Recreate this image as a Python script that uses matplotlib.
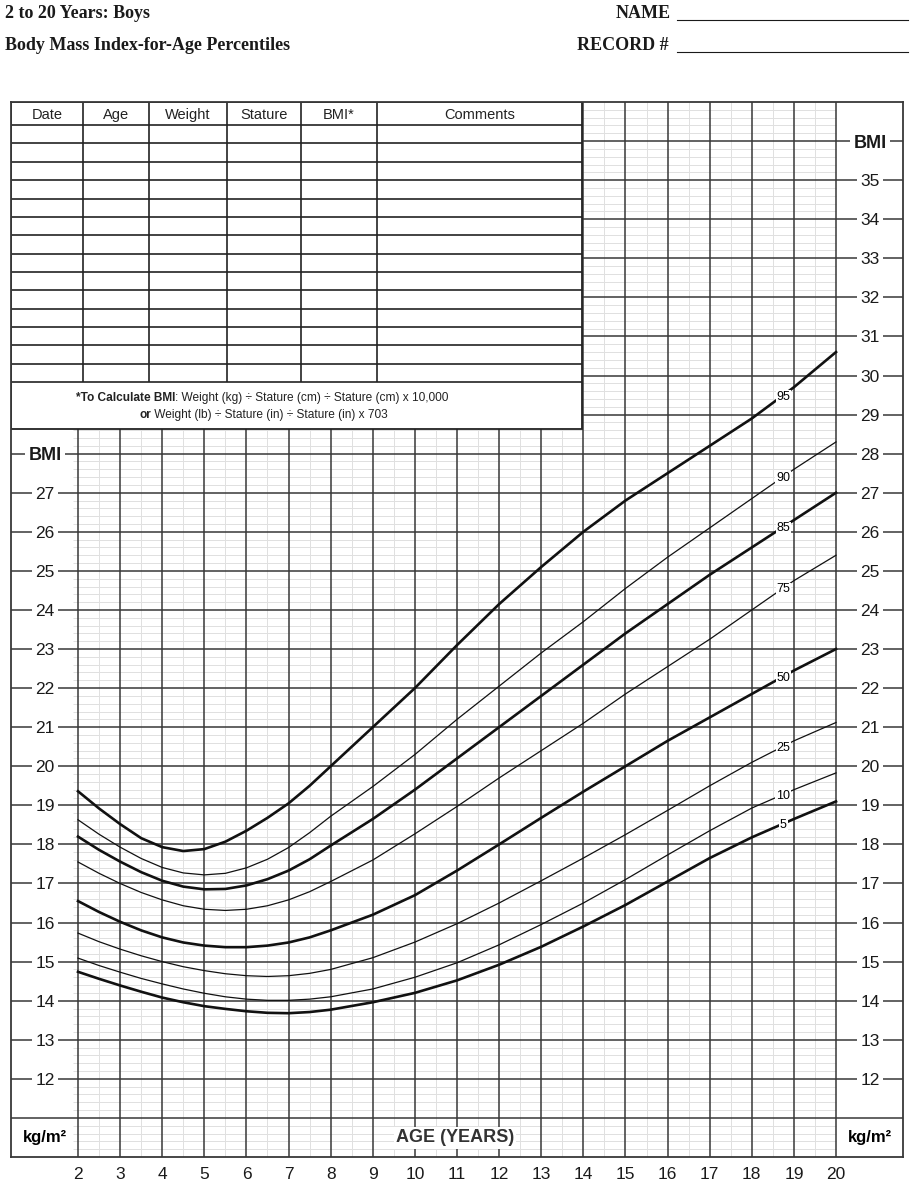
import numpy as np
import matplotlib.pyplot as plt
from matplotlib.lines import Line2D
from matplotlib.patches import Rectangle

plt.rcParams['font.family'] = ['Liberation Sans', 'DejaVu Sans']

# BMI-for-age percentiles, boys 2-20
ages = [2, 2.5, 3, 3.5, 4, 4.5, 5, 5.5, 6, 6.5, 7, 7.5, 8,
        9, 10, 11, 12, 13, 14, 15, 16, 17, 18, 19, 20]
p95 = [19.36, 18.92, 18.52, 18.16, 17.93, 17.83, 17.88, 18.07, 18.35, 18.68, 19.05, 19.5, 20.0,
       21.0, 22.0, 23.1, 24.15, 25.1, 26.0, 26.8, 27.5, 28.2, 28.9, 29.7, 30.6]
p90 = [18.63, 18.26, 17.93, 17.64, 17.41, 17.27, 17.22, 17.26, 17.4, 17.62, 17.92, 18.3, 18.72,
       19.48, 20.3, 21.2, 22.05, 22.9, 23.7, 24.55, 25.35, 26.1, 26.85, 27.6, 28.3]
p85 = [18.2, 17.86, 17.56, 17.29, 17.07, 16.92, 16.85, 16.86, 16.95, 17.11, 17.33, 17.62, 17.97,
       18.65, 19.4, 20.2, 21.0, 21.8, 22.6, 23.4, 24.15, 24.9, 25.6, 26.3, 27.0]
p75 = [17.55, 17.26, 17.0, 16.77, 16.58, 16.43, 16.34, 16.31, 16.34, 16.43, 16.58, 16.79, 17.05,
       17.6, 18.27, 18.97, 19.7, 20.4, 21.1, 21.85, 22.55, 23.25, 24.0, 24.75, 25.4]
p50 = [16.55, 16.27, 16.02, 15.8, 15.62, 15.49, 15.41, 15.37, 15.37, 15.41, 15.49, 15.62, 15.8,
       16.2, 16.7, 17.33, 18.0, 18.68, 19.35, 20.0, 20.65, 21.25, 21.85, 22.45, 23.0]
p25 = [15.73, 15.51, 15.32, 15.15, 15.0, 14.87, 14.77, 14.69, 14.64, 14.62, 14.64, 14.7, 14.8,
       15.1, 15.5, 15.97, 16.5, 17.07, 17.65, 18.25, 18.87, 19.5, 20.1, 20.65, 21.12]
p10 = [15.09, 14.9, 14.73, 14.57, 14.43, 14.3, 14.19, 14.1, 14.04, 14.01, 14.01, 14.04, 14.1,
       14.3, 14.6, 14.97, 15.43, 15.95, 16.5, 17.1, 17.73, 18.35, 18.93, 19.4, 19.83]
p5 = [14.74, 14.56, 14.39, 14.23, 14.08, 13.96, 13.86, 13.79, 13.73, 13.69, 13.68, 13.71, 13.77,
      13.96, 14.2, 14.52, 14.92, 15.38, 15.9, 16.45, 17.05, 17.65, 18.18, 18.65, 19.1]

curves = [("95", p95, True), ("90", p90, False), ("85", p85, True), ("75", p75, False),
          ("50", p50, True), ("25", p25, False), ("10", p10, False), ("5", p5, True)]

table_cols = ["Date", "Age", "Weight", "Stature", "BMI*", "Comments"]
age_ticks = list(range(2, 21))
left_labels = list(range(12, 28))
right_labels = list(range(12, 36))

XL, XR = 0.409, 21.591
DARK = '#383838'

fig = plt.figure(figsize=(9.14, 11.86), dpi=100)
ax = fig.add_axes([11 / 914, 29 / 1186, 892 / 914, 1055 / 1186])
ax.set_xlim(XL, XR)
ax.set_ylim(10, 37)

# grid
ax.vlines(np.arange(2.5, 20, 1.0), 10, 37, color='#e0e0e0', lw=0.7, zorder=1)
minor_y = [v for v in np.arange(10.2, 37, 0.2) if abs(v - round(v)) > 0.05]
ax.hlines(minor_y, 1.88, 20, color='#e0e0e0', lw=0.7, zorder=1)
ax.vlines(age_ticks, 10, 37, color=DARK, lw=1.1, zorder=2)
ax.hlines(range(11, 37), XL, XR, color=DARK, lw=1.1, zorder=2)

# percentile curves
for name, vals, thick in curves:
    ax.plot(ages, vals, color='#111111', lw=1.9 if thick else 0.9,
            solid_joinstyle='round', zorder=3)
    ax.text(18.75, np.interp(18.75, ages, vals), name, fontsize=9, ha='center',
            va='center_baseline', zorder=6,
            bbox=dict(fc='white', ec='none', pad=0.6))

# data table
t_right, t_bot, f_top, h_bot = 13.97, 28.624, 29.83, 36.41
ax.add_patch(Rectangle((XL, t_bot), t_right - XL, 37 - t_bot, fc='white',
                       ec='#222222', lw=1.3, zorder=4))
col_x = [XL, 2.119, 3.686, 5.538, 7.296, 9.100, t_right]
row_y = np.linspace(f_top, h_bot, 15)
ax.vlines(col_x[1:-1], f_top, 37, color='#222222', lw=1.2, zorder=5)
ax.hlines(row_y, XL, t_right, color='#222222', lw=1.2, zorder=5)
for i, c in enumerate(table_cols):
    ax.text((col_x[i] + col_x[i + 1]) / 2, 36.71, c, fontsize=10.5, ha='center',
            va='center_baseline', color='#222222', zorder=6)


def chain(x, y, parts):
    prev = None
    for txt, w in parts:
        if prev is None:
            prev = ax.text(x, y, txt, fontsize=8.6, fontweight=w, ha='left',
                           va='baseline', color='#222222', zorder=6)
        else:
            prev = ax.annotate(txt, xy=(1, 0), xycoords=prev, fontsize=8.6,
                               fontweight=w, ha='left', va='bottom',
                               color='#222222', zorder=6)


chain(1.953, 29.34, [("*To Calculate BMI", 'bold'),
                     (": Weight (kg) \u00f7 Stature (cm) \u00f7 Stature (cm) x 10,000", 'normal')])
chain(3.449, 28.91, [("or", 'bold'),
                     (" Weight (lb) \u00f7 Stature (in) \u00f7 Stature (in) x 703", 'normal')])

# axis labels in the side columns
lab = dict(ha='center', va='center_baseline', zorder=6, color='#1a1a1a',
           bbox=dict(fc='white', ec='none', pad=2.5))
for v in left_labels:
    ax.text(1.216, v, str(v), fontsize=12.5, **lab)
for v in right_labels:
    ax.text(20.81, v, str(v), fontsize=12.5, **lab)
ax.text(1.216, 28, "BMI", fontsize=13, fontweight='bold', **lab)
ax.text(20.81, 36, "BMI", fontsize=13, fontweight='bold', **lab)
ax.text(1.216, 10.53, "kg/m\u00b2", fontsize=12, fontweight='bold', ha='center',
        va='center_baseline', zorder=6)
ax.text(20.81, 10.53, "kg/m\u00b2", fontsize=12, fontweight='bold', ha='center',
        va='center_baseline', zorder=6)
ax.text(10.95, 10.54, "AGE (YEARS)", fontsize=13, fontweight='bold', ha='center',
        va='center_baseline', color='#333333', zorder=6,
        bbox=dict(fc='white', ec='none', pad=1.5))

ax.set_xticks(age_ticks)
ax.set_yticks([])
ax.tick_params(axis='x', length=0, pad=7, labelsize=12.5, labelcolor='#1a1a1a')
for s in ax.spines.values():
    s.set_color(DARK)
    s.set_linewidth(1.3)
    s.set_zorder(7)

# header
serif = dict(fontfamily='Liberation Serif', fontweight='bold', fontsize=13,
             color='#1a1a1a', va='center')
fig.text(5 / 914, 1 - 13 / 1186, "2 to 20 Years: Boys", ha='left', **serif)
fig.text(5 / 914, 1 - 45 / 1186, "Body Mass Index-for-Age Percentiles", ha='left', **serif)
fig.text(671 / 914, 1 - 13 / 1186, "NAME", ha='right', **serif)
fig.text(669 / 914, 1 - 45 / 1186, "RECORD #", ha='right', **serif)
for yy in (20, 52):
    fig.add_artist(Line2D([677 / 914, 908 / 914], [1 - yy / 1186] * 2,
                          color='#1a1a1a', lw=0.8))

fig.savefig('out.png', dpi=100, facecolor='white')
